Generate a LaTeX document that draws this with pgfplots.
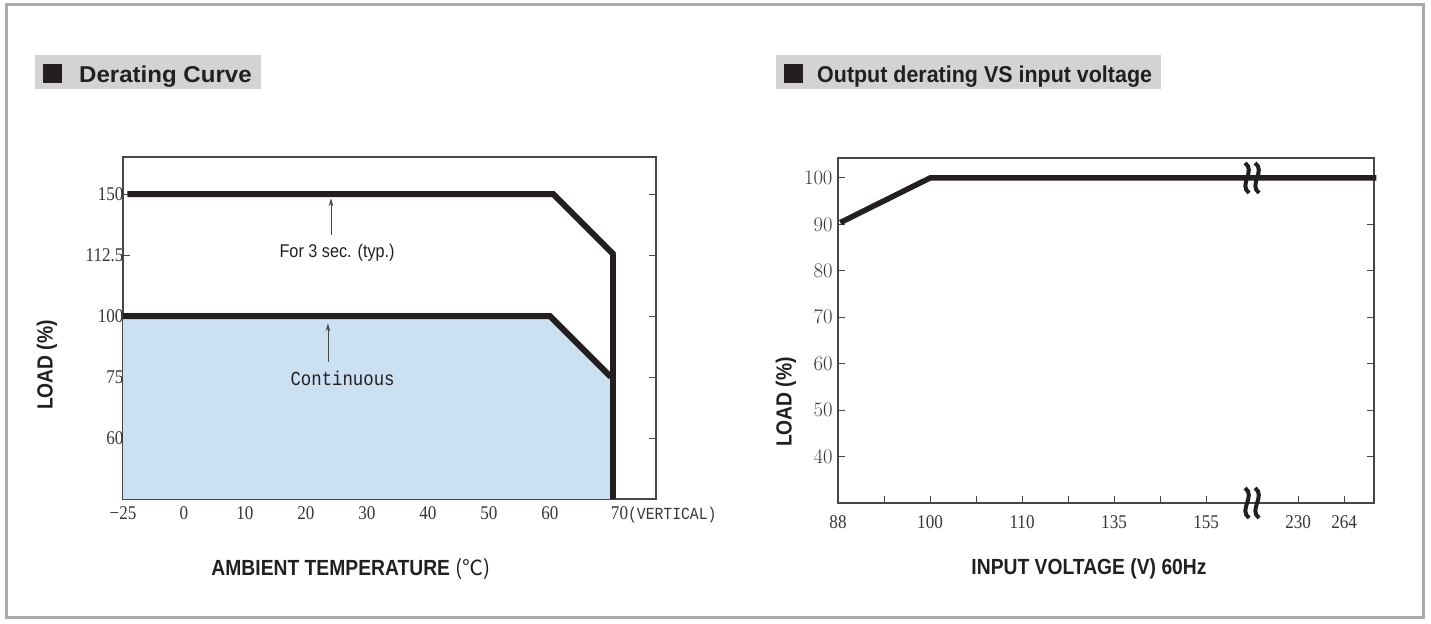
\documentclass[border=0pt]{standalone}
\usepackage{fontspec}
\usepackage{pgfplots}
\pgfplotsset{compat=1.18}
\usetikzlibrary{arrows.meta,calc}
\setmainfont{Liberation Serif}
\newfontfamily\tickserif[FakeStretch=0.88]{Liberation Serif}
\newfontfamily\hv{Liberation Sans}
\newfontfamily\hvn[FakeStretch=0.88]{Liberation Sans}
\newfontfamily\mono[FakeStretch=0.87]{Liberation Mono}
\newfontfamily\cjk{Noto Sans CJK SC}
\definecolor{fillblue}{RGB}{203,224,243}
\definecolor{ink}{RGB}{35,31,32}
\definecolor{framegray}{RGB}{170,170,175}
\definecolor{titlebg}{RGB}{211,211,213}
\definecolor{axisgray}{RGB}{70,70,70}
\definecolor{labelgray}{RGB}{55,55,55}
\newcommand\tickfont{\tickserif\fontsize{19.5}{21}\selectfont}
\newcommand\labfont{\hvn\bfseries\fontsize{22}{24}\selectfont}
\newcommand\brk[1]{%
  \draw[ink, line width=4bp] ($(#1)+(-7bp,15bp)$) .. controls +(11bp,-8bp) and +(-11bp,8bp) .. ($(#1)+(-3bp,-15bp)$);
  \draw[ink, line width=4bp] ($(#1)+(3bp,15bp)$) .. controls +(11bp,-8bp) and +(-11bp,8bp) .. ($(#1)+(7bp,-15bp)$);}
\pgfplotsset{
  common/.style={
    scale only axis, anchor=south west,
    tick align=inside, xtick pos=lower, ytick pos=both,
    major tick length=7bp,
    axis line style={axisgray, line width=1.3bp},
    tick style={axisgray, line width=1bp},
    ticklabel style={font=\tickfont, text=labelgray},
    clip=false,
  }
}
\begin{document}
\begin{tikzpicture}
\useasboundingbox (0bp,0bp) rectangle (1431bp,624bp);
\draw[framegray, line width=3bp] (6.5bp,6bp) rectangle (1423bp,619bp);
% titles
\fill[titlebg] (35bp,535bp) rectangle (261bp,569bp);
\fill[ink] (43bp,541bp) rectangle (62bp,560bp);
\node[anchor=base west, inner sep=0, text=ink] at (79bp,541bp) {\scalebox{1.05}[1]{\hv\bfseries\fontsize{23}{26}\selectfont Derating Curve}};
\fill[titlebg] (776bp,535bp) rectangle (1161bp,569bp);
\fill[ink] (784bp,541bp) rectangle (803bp,560bp);
\node[anchor=base west, inner sep=0, text=ink] at (817bp,541bp) {\scalebox{0.936}[1]{\hv\bfseries\fontsize{23}{26}\selectfont Output derating VS input voltage}};

% left chart
\begin{axis}[common, at={(123bp,125bp)}, width=533bp, height=342bp,
  xmin=0, xmax=8.738, ymin=0, ymax=5.607,
  xtick={0,1,2,3,4,5,6,7,8},
  xticklabels={−25,0,10,20,30,40,50,60,{\rlap{70{\mono\fontsize{17}{20}\selectfont(VERTICAL)}}}},
  xticklabel style={yshift=-4bp},
  ytick={1,2,3,4,5},
  yticklabels={60,75,100,112.5,150},
  yticklabel style={xshift=4bp},
]
\addplot[fill=fillblue, draw=none] coordinates {(0,3) (7,3) (8.03,2) (8.03,0)} \closedcycle;
\addplot[ink, line width=6bp] coordinates {(0.07,5) (7.05,5) (8.05,4)};
\addplot[ink, line width=6bp] coordinates {(0.0,3) (7.0,3) (8.0,2)};
\addplot[ink, line width=6bp] coordinates {(8.03,4.02) (8.03,0)};
\draw[-{Stealth[length=8bp,width=4.5bp]}, line width=0.9bp, axisgray] (axis cs:3.41,4.33) -- (axis cs:3.41,4.93);
\draw[-{Stealth[length=8bp,width=4.5bp]}, line width=0.9bp, axisgray] (axis cs:3.36,2.25) -- (axis cs:3.36,2.88);
\node[text=ink] at (axis cs:3.51,4.03) {\hvn\fontsize{18.5}{20}\selectfont For 3 sec. (typ.)};
\node[text=ink] at (axis cs:3.60,1.97) {\mono\fontsize{20}{22}\selectfont Continuous};
\end{axis}

% right chart
\begin{axis}[common, at={(838bp,121bp)}, width=536bp, height=345bp,
  xmin=0, xmax=11.65, ymin=30, ymax=104.3,
  xtick={0,1,2,3,4,5,6,7,8,10,11},
  xticklabels={88,,100,,110,,135,,155,230,264},
  xticklabel style={yshift=-9bp},
  ytick={40,50,60,70,80,90,100},
  yticklabel style={xshift=-2bp},
]
\addplot[ink, line width=5.5bp] coordinates {(0.05,90.4) (2,100) (11.7,100)};
\coordinate (b1) at (axis cs:9,100);
\coordinate (b2) at (axis cs:9,30);
\end{axis}
\brk{b1}
\brk{b2}

% axis labels
\node[text=ink] at (351bp,55bp) {\labfont AMBIENT TEMPERATURE {\cjk\mdseries\fontsize{21}{24}\selectfont (℃)}};
\node[text=ink] at (1089bp,55bp) {\labfont INPUT VOLTAGE (V) 60Hz};
\node[text=ink, rotate=90] at (47bp,259bp) {\labfont LOAD (\%)};
\node[text=ink, rotate=90] at (786bp,222bp) {\labfont LOAD (\%)};
\end{tikzpicture}
\end{document}
